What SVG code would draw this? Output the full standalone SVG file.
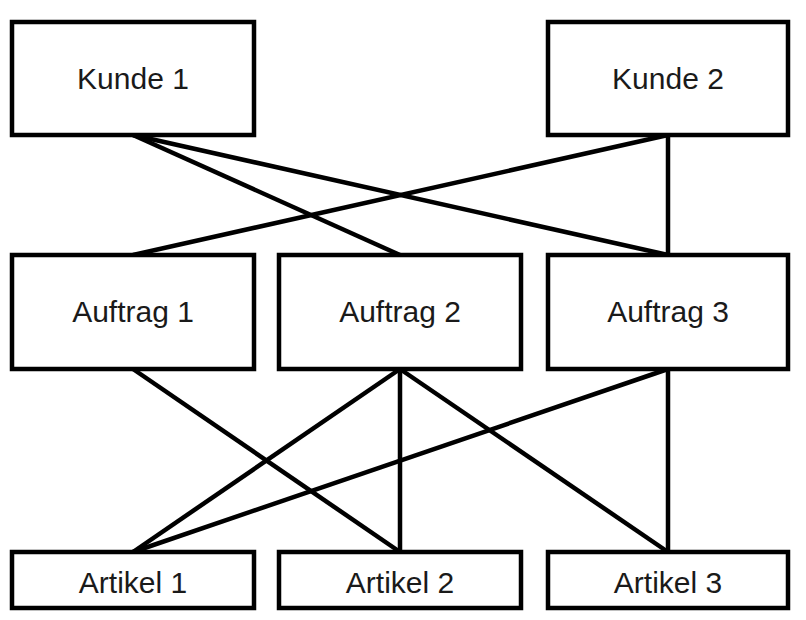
<svg xmlns="http://www.w3.org/2000/svg" width="806" height="620" viewBox="0 0 806 620">
<style>
.box{fill:#fff;stroke:#000;stroke-width:4.5}
.lbl{font-family:"Liberation Sans",Arial,sans-serif;font-size:30px;fill:#1a1a1a;text-anchor:middle}
.c{stroke:#000;stroke-width:4.5;fill:none}
</style>
<rect width="806" height="620" fill="#fff"/>
<g id="connectors">
<line class="c" x1="133" y1="135" x2="400" y2="255"/>
<line class="c" x1="133" y1="135" x2="668" y2="255"/>
<line class="c" x1="668" y1="135" x2="133" y2="255"/>
<line class="c" x1="668" y1="135" x2="668" y2="255"/>
<line class="c" x1="133" y1="369" x2="400" y2="552"/>
<line class="c" x1="400" y1="369" x2="133" y2="552"/>
<line class="c" x1="400" y1="369" x2="400" y2="552"/>
<line class="c" x1="400" y1="369" x2="668" y2="552"/>
<line class="c" x1="668" y1="369" x2="133" y2="552"/>
<line class="c" x1="668" y1="369" x2="668" y2="552"/>
</g>
<g id="kunde1"><rect class="box" x="12" y="22" width="242" height="113"/><text class="lbl" x="133" y="89">Kunde 1</text></g>
<g id="kunde2"><rect class="box" x="548" y="22" width="240" height="113"/><text class="lbl" x="668" y="89">Kunde 2</text></g>
<g id="auftrag1"><rect class="box" x="12" y="255" width="242" height="114"/><text class="lbl" x="133" y="322">Auftrag 1</text></g>
<g id="auftrag2"><rect class="box" x="279" y="255" width="242" height="114"/><text class="lbl" x="400" y="322">Auftrag 2</text></g>
<g id="auftrag3"><rect class="box" x="548" y="255" width="240" height="114"/><text class="lbl" x="668" y="322">Auftrag 3</text></g>
<g id="artikel1"><rect class="box" x="12" y="552" width="242" height="56"/><text class="lbl" x="133" y="593">Artikel 1</text></g>
<g id="artikel2"><rect class="box" x="279" y="552" width="242" height="56"/><text class="lbl" x="400" y="593">Artikel 2</text></g>
<g id="artikel3"><rect class="box" x="548" y="552" width="240" height="56"/><text class="lbl" x="668" y="593">Artikel 3</text></g>
</svg>
